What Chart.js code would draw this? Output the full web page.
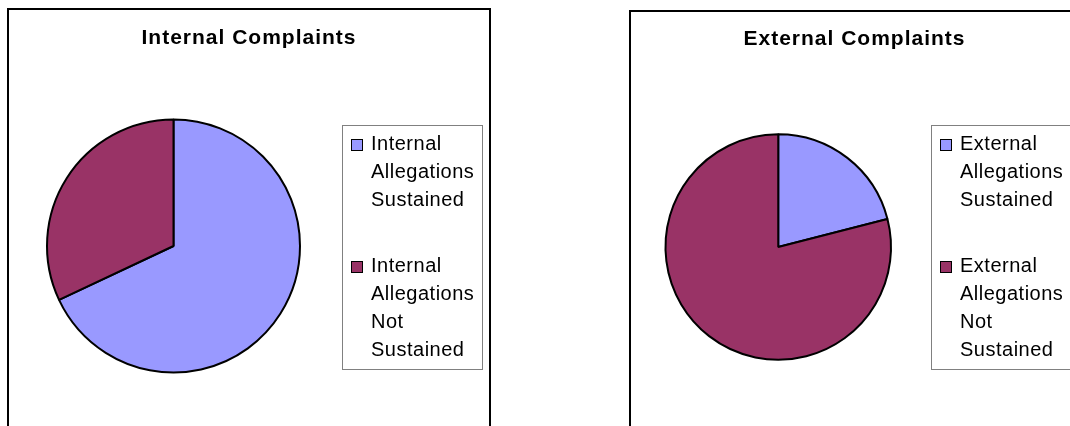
<!DOCTYPE html>
<html><head><meta charset="utf-8">
<script src="https://cdn.jsdelivr.net/npm/chart.js@4.4.1/dist/chart.umd.min.js"></script>
<style>
html,body{margin:0;padding:0;background:#fff;}
body{width:1070px;height:426px;overflow:hidden;position:relative;}
.box{position:absolute;border:2px solid #000;box-sizing:border-box;}
.wrap{position:absolute;}
</style></head><body>
<div class="box" style="left:7px;top:8px;width:484px;height:470px"></div>
<div class="box" style="left:629px;top:10px;width:452px;height:470px"></div>
<div class="wrap" style="left:9px;top:10px;width:480px;height:416px"><canvas id="c1"></canvas></div>
<div class="wrap" style="left:631px;top:12px;width:447px;height:414px"><canvas id="c2"></canvas></div>
<script>
// ---- data ----
const internalTitle = 'Internal Complaints';
const internalLabels = ['Internal Allegations Sustained', 'Internal Allegations Not Sustained'];
const internalValues = [68, 32];

const externalTitle = 'External Complaints';
const externalLabels = ['External Allegations Sustained', 'External Allegations Not Sustained'];
const externalValues = [21, 79];

const sliceColors = ['#9999FF', '#993366'];

// ---- setup ----
const FONT = "'Liberation Sans', Arial, Helvetica, sans-serif";
Chart.defaults.font.family = FONT;
Chart.defaults.color = '#000';

function wrapWords(ctx, text, maxW) {
  const words = text.split(' ');
  const lines = [];
  let cur = '';
  words.forEach(w => {
    const t = cur ? cur + ' ' + w : w;
    if (cur && ctx.measureText(t).width > maxW) { lines.push(cur); cur = w; }
    else cur = t;
  });
  if (cur) lines.push(cur);
  return lines;
}

// centre the title across the whole canvas (the box), and give it the
// slightly loose letter spacing of the original
const centerTitle = {
  id: 'centerTitle',
  afterLayout(chart) {
    if (chart.titleBlock) { chart.titleBlock.left = 0; chart.titleBlock.right = chart.width; }
  },
  beforeDraw(chart) { chart.ctx.letterSpacing = '1px'; },
  beforeDatasetsDraw(chart) { chart.ctx.letterSpacing = '0px'; }
};

// Excel-style framed legend on the right
const boxLegend = {
  id: 'boxLegend',
  afterDraw(chart, args, o) {
    const ctx = chart.ctx;
    ctx.save();
    ctx.lineWidth = 1;
    ctx.strokeStyle = o.borderColor;
    ctx.strokeRect(o.x + 0.5, o.y + 0.5, o.w, o.h);
    ctx.font = o.fontSize + 'px ' + FONT;
    ctx.letterSpacing = o.letterSpacing;
    ctx.textBaseline = 'middle';
    ctx.textAlign = 'left';
    const ds = chart.data.datasets[0];
    let y = o.y + o.firstLine;
    chart.data.labels.forEach((label, i) => {
      const lines = wrapWords(ctx, label, o.maxTextWidth);
      const sx = o.x + o.squareX, sy = Math.round(y) - 5;
      ctx.fillStyle = ds.backgroundColor[i];
      ctx.fillRect(sx, sy, o.square, o.square);
      ctx.strokeStyle = '#000';
      ctx.strokeRect(sx + 0.5, sy + 0.5, o.square - 1, o.square - 1);
      ctx.fillStyle = '#000';
      lines.forEach((ln, k) => ctx.fillText(ln, o.x + o.textX, y + k * o.lineHeight));
      y += lines.length * o.lineHeight + o.itemGap;
    });
    ctx.restore();
  }
};

function makePie(id, title, labels, values, cfg) {
  return new Chart(document.getElementById(id), {
    type: 'pie',
    data: {
      labels: labels,
      datasets: [{
        data: values,
        backgroundColor: sliceColors,
        borderColor: '#000',
        borderWidth: 2,
        hoverOffset: 0
      }]
    },
    options: {
      responsive: true,
      maintainAspectRatio: false,
      animation: false,
      events: [],
      layout: { padding: cfg.padding },
      plugins: {
        legend: { display: false },
        tooltip: { enabled: false },
        title: {
          display: true,
          text: title,
          color: '#000',
          font: { family: FONT, size: 21, weight: 'bold' },
          padding: cfg.titlePadding
        },
        boxLegend: cfg.legend
      }
    },
    plugins: [centerTitle, boxLegend]
  });
}

makePie('c1', internalTitle, internalLabels, internalValues, {
  padding: { left: 37, right: 188, top: 0, bottom: 52.5 },
  titlePadding: { top: 15.9, bottom: 67.4 },
  legend: { x: 333, y: 115, w: 140, h: 244, borderColor: '#808080', fontSize: 20, letterSpacing: '0.5px',
            square: 12, squareX: 9, textX: 29, firstLine: 19, lineHeight: 28, itemGap: 38, maxTextWidth: 108 }
});

makePie('c2', externalTitle, externalLabels, externalValues, {
  padding: { left: 33.5, right: 186, top: 0, bottom: 65.25 },
  titlePadding: { top: 14.9, bottom: 81.15 },
  legend: { x: 300, y: 113, w: 160, h: 244, borderColor: '#808080', fontSize: 20, letterSpacing: '0.5px',
            square: 12, squareX: 9, textX: 29, firstLine: 19, lineHeight: 28, itemGap: 38, maxTextWidth: 108 }
});
</script>
</body></html>
